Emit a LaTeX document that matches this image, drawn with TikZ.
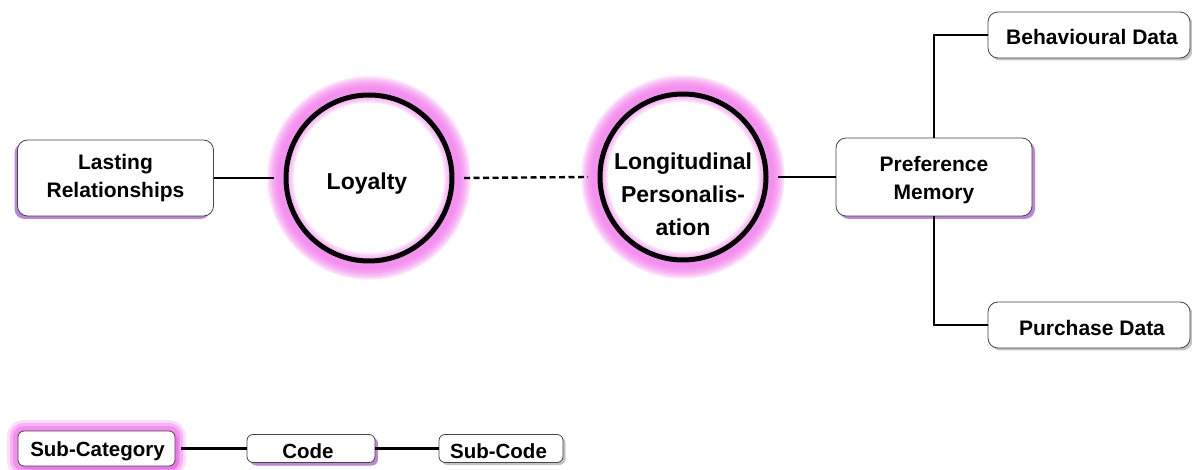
\documentclass[tikz,border=0pt]{standalone}
\usepackage{fontspec}
\setmainfont{Liberation Sans}
\usetikzlibrary{shadows,backgrounds}
\definecolor{glowc}{RGB}{242,118,236}
\definecolor{shadowpurple}{RGB}{190,132,222}
\definecolor{shadowgray}{RGB}{196,196,196}
\definecolor{edgegray}{RGB}{70,70,70}
\tikzset{
  box/.style={draw=edgegray, line width=0.8pt, fill=white, rounded corners=10pt, inner sep=0pt},
  smallbox/.style={box, rounded corners=6pt},
  boxtext/.style={align=center, inner sep=0pt, font=\bfseries\fontsize{21}{28}\selectfont},
  legendtext/.style={inner sep=0pt, font=\bfseries\fontsize{20.5}{24}\selectfont},
  purpleshadowR/.style={drop shadow={shadow xshift=3pt, shadow yshift=-3pt, fill=shadowpurple, opacity=1}},
  purpleshadowL/.style={drop shadow={shadow xshift=-3pt, shadow yshift=-3pt, fill=shadowpurple, opacity=1}},
  grayshadow/.style={drop shadow={shadow xshift=2.5pt, shadow yshift=-2.5pt, fill=shadowgray, opacity=1}},
  ring/.style={circle, draw=black, line width=5pt, minimum size=166pt, inner sep=0pt, outer sep=12pt},
  ringtext/.style={align=center, inner sep=0pt, font=\bfseries\fontsize{23}{33}\selectfont},
  conn/.style={draw=black, line width=2.4pt},
}
\begin{document}
\begin{tikzpicture}[x=1pt,y=-1pt]
\useasboundingbox (0,0) rectangle (1192,470);

% theme circles
\node[ring] (loy) at (369,178) {};
\node[ringtext] (loytext) at (367,183.5) {Loyalty};
\node[ring] (lp) at (683,177) {};
\node[ringtext] (lptext) at (683,194) {Longitudinal\\Personalis-\\ation};

% soft pink halo behind the circles
\begin{scope}[on background layer]
  \foreach \c in {loy,lp} {
    \foreach \w in {26,22,18,14,10,6} {
      \draw[glowc, opacity=0.24, line width=\w pt] (\c.center) circle (88.5pt);
    }
  }
\end{scope}

% category boxes
\node[box, purpleshadowL, minimum width=196pt, minimum height=76pt] (last) at (115.5,178) {};
\node[boxtext] (lasttext) at (last.center) {Lasting\\Relationships};
\node[box, purpleshadowR, minimum width=196pt, minimum height=78pt] (pref) at (934,177) {};
\node[boxtext] (preftext) at (934,180.5) {Preference\\Memory};
\node[box, grayshadow, minimum width=202pt, minimum height=46pt] (behav) at (1089,35) {};
\node[boxtext] (behavtext) at (1092,37) {Behavioural Data};
\node[box, grayshadow, minimum width=202pt, minimum height=46pt] (purch) at (1089,325) {};
\node[boxtext] (purchtext) at (1092,328) {Purchase Data};

% connectors
\draw[conn] (last.east) -- (loy.west);
\draw[conn, dash pattern=on 6pt off 3.5pt] (loy.east) -- (lp.west);
\draw[conn] (lp.east) -- (pref.west);
\draw[conn] (pref.north) |- (behav.west);
\draw[conn] (pref.south) |- (purch.west);

% legend
\node[smallbox, purpleshadowR, minimum width=157pt, minimum height=35pt,
  preaction={draw=glowc, line width=22pt, opacity=0.25},
  preaction={draw=glowc, line width=16pt, opacity=0.4},
  preaction={draw=glowc, line width=10pt, opacity=0.6},
  outer sep=6pt] (subcat) at (96.5,448.5) {};
\node[legendtext] (subcattext) at (97.5,451.5) {Sub-Category};
\node[smallbox, purpleshadowR, minimum width=128pt, minimum height=28pt] (code) at (311,448.5) {};
\node[legendtext] (codetext) at (308,451.5) {Code};
\node[smallbox, grayshadow, minimum width=124pt, minimum height=28pt] (subcode) at (501,448.5) {};
\node[legendtext] (subcodetext) at (498.5,451.5) {Sub-Code};
\draw[conn] (subcat.east) -- (code.west);
\draw[conn] (code.east) -- (subcode.west);
\end{tikzpicture}
\end{document}
